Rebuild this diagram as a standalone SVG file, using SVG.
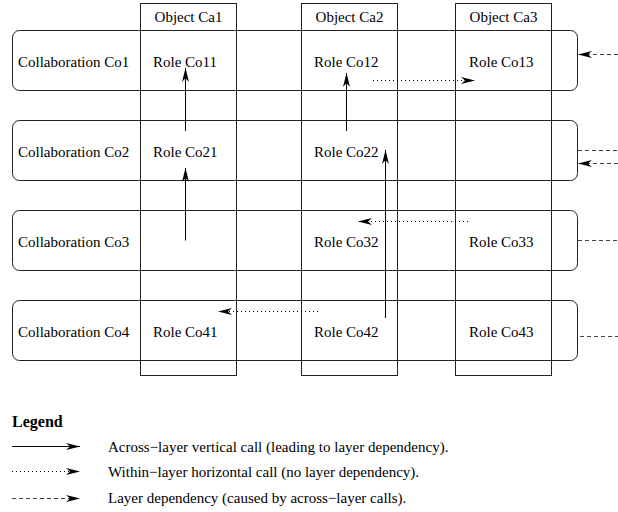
<svg xmlns="http://www.w3.org/2000/svg" width="618" height="512" viewBox="0 0 618 512">
<style>
text{font-family:"Liberation Serif","Times New Roman",serif;fill:#000}
.lbl{font-size:15px}
.leg{font-size:15px}
.box{fill:none;stroke:#222;stroke-width:1}
.solid{stroke:#000;stroke-width:1;fill:none}
.dot{stroke:#000;stroke-width:1;stroke-dasharray:1 3;fill:none}
.dash{stroke:#444;stroke-width:1;stroke-dasharray:4 3;fill:none}
</style>
<defs>
<marker id="ah" markerUnits="userSpaceOnUse" markerWidth="16" markerHeight="10" viewBox="-15 -5 16 10" refX="0" refY="0" orient="auto">
<path d="M0,0 L-14,-3.5 L-10,0 L-14,3.5 Z" fill="#000"/>
</marker>
</defs>
<rect width="618" height="512" fill="#fff"/>
<g id="object-ca1"><rect class="box" x="140.5" y="3.5" width="96" height="372"/><text class="lbl" x="188.5" y="22" text-anchor="middle">Object Ca1</text></g>
<g id="object-ca2"><rect class="box" x="301.5" y="3.5" width="96" height="372"/><text class="lbl" x="349.5" y="22" text-anchor="middle">Object Ca2</text></g>
<g id="object-ca3"><rect class="box" x="455.5" y="3.5" width="96" height="372"/><text class="lbl" x="503.5" y="22" text-anchor="middle">Object Ca3</text></g>
<g id="collab-co1"><rect class="box" x="12.5" y="30.5" width="565" height="60" rx="7"/><text class="lbl" x="18" y="67">Collaboration Co1</text></g>
<g id="collab-co2"><rect class="box" x="12.5" y="120.5" width="565" height="60" rx="7"/><text class="lbl" x="18" y="157">Collaboration Co2</text></g>
<g id="collab-co3"><rect class="box" x="12.5" y="210.5" width="565" height="60" rx="7"/><text class="lbl" x="18" y="247">Collaboration Co3</text></g>
<g id="collab-co4"><rect class="box" x="12.5" y="300.5" width="565" height="60" rx="7"/><text class="lbl" x="18" y="337">Collaboration Co4</text></g>
<g id="role-co11"><text class="lbl" x="153" y="67">Role Co11</text></g>
<g id="role-co12"><text class="lbl" x="314" y="67">Role Co12</text></g>
<g id="role-co13"><text class="lbl" x="469" y="67">Role Co13</text></g>
<g id="role-co21"><text class="lbl" x="153" y="157">Role Co21</text></g>
<g id="role-co22"><text class="lbl" x="314" y="157">Role Co22</text></g>
<g id="role-co32"><text class="lbl" x="314" y="247">Role Co32</text></g>
<g id="role-co33"><text class="lbl" x="469" y="247">Role Co33</text></g>
<g id="role-co41"><text class="lbl" x="153" y="337">Role Co41</text></g>
<g id="role-co42"><text class="lbl" x="314" y="337">Role Co42</text></g>
<g id="role-co43"><text class="lbl" x="469" y="337">Role Co43</text></g>
<g id="connectors">
<line class="solid" x1="185.5" y1="131" x2="185.5" y2="68" marker-end="url(#ah)"/>
<line class="solid" x1="185.5" y1="240.5" x2="185.5" y2="168" marker-end="url(#ah)"/>
<line class="solid" x1="346.5" y1="131" x2="346.5" y2="73" marker-end="url(#ah)"/>
<line class="solid" x1="385.5" y1="318" x2="385.5" y2="150" marker-end="url(#ah)"/>
<line class="dot" x1="373" y1="80.5" x2="475" y2="80.5" marker-end="url(#ah)"/>
<line class="dot" x1="468" y1="221.5" x2="358" y2="221.5" marker-end="url(#ah)"/>
<line class="dot" x1="318" y1="311.5" x2="218" y2="311.5" marker-end="url(#ah)"/>
<line class="dash" x1="618" y1="54.5" x2="578" y2="54.5" marker-end="url(#ah)"/>
<line class="dash" x1="578" y1="150.5" x2="618" y2="150.5"/>
<line class="dash" x1="618" y1="163.5" x2="578" y2="163.5" marker-end="url(#ah)"/>
<line class="dash" x1="578" y1="240.5" x2="618" y2="240.5"/>
<line class="dash" x1="580" y1="336.5" x2="618" y2="336.5"/>
</g>
<g id="legend">
<text x="12" y="427" style="font-size:16px;font-weight:bold">Legend</text>
<line class="solid" x1="12" y1="446.5" x2="80" y2="446.5" marker-end="url(#ah)"/>
<line class="dot" x1="12" y1="471.5" x2="80" y2="471.5" marker-end="url(#ah)"/>
<line class="dash" x1="12" y1="498.5" x2="80" y2="498.5" marker-end="url(#ah)"/>
<text class="leg" x="108" y="452">Across−layer vertical call (leading to layer dependency).</text>
<text class="leg" x="108" y="477">Within−layer horizontal call (no layer dependency).</text>
<text class="leg" x="108" y="503">Layer dependency (caused by across−layer calls).</text>
</g>
</svg>
